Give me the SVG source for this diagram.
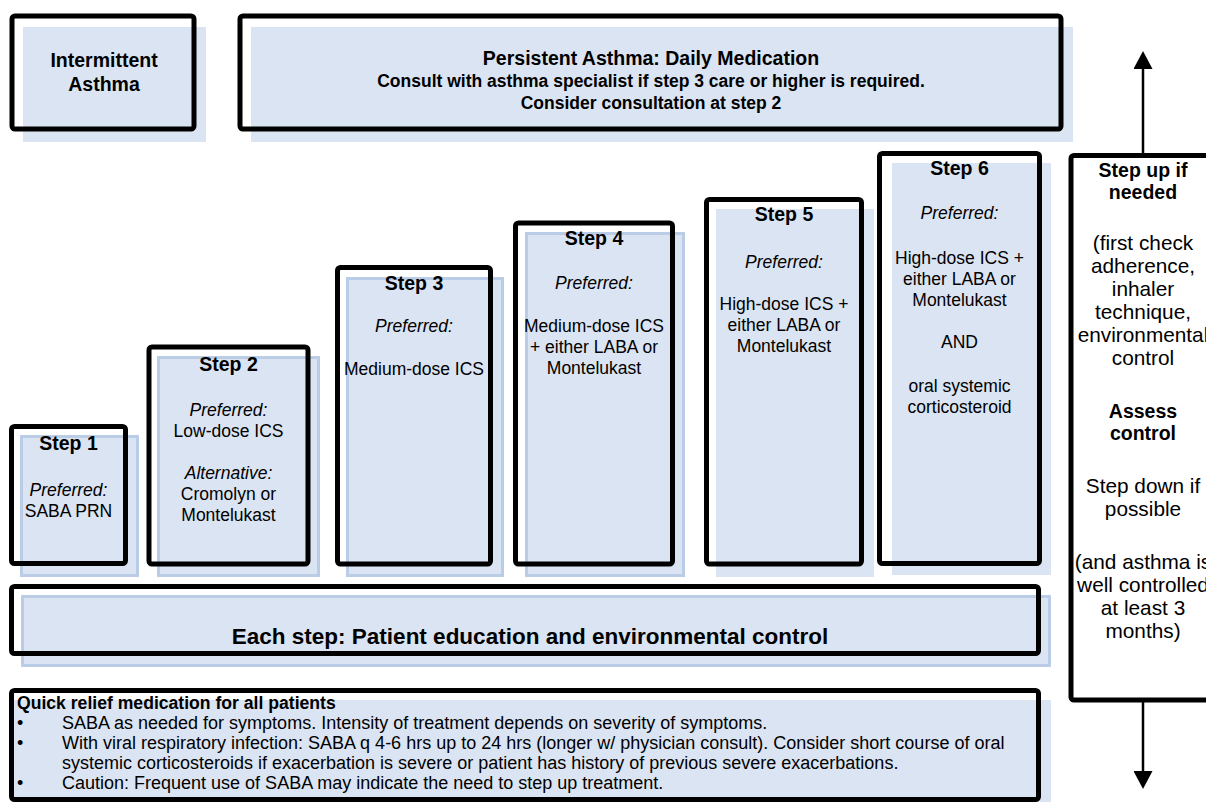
<svg xmlns="http://www.w3.org/2000/svg" width="1206" height="802" viewBox="0 0 1206 802">
  <style>
    .frame { fill: none; stroke: #000; stroke-width: 5; }
    .shade { fill: #DBE4F2; }
    .shade-b { fill: #DBE4F2; stroke: #BACCE6; stroke-width: 3; }
    text { font-family: "Liberation Sans", Arial, sans-serif; fill: #000; }
    .c { text-anchor: middle; }
    .h { font-weight: bold; font-size: 19.5px; }
    .hs { font-weight: bold; font-size: 17.5px; }
    .r { font-size: 17.5px; }
    .i { font-size: 17.5px; font-style: italic; }
    .side { font-size: 20.8px; }
    .q { font-size: 18px; }
    .link { stroke: #000; stroke-width: 2.5; fill: none; }
  </style>
  <defs>
    <marker id="head" markerUnits="userSpaceOnUse" markerWidth="19" markerHeight="19" refX="0" refY="9.5" orient="auto" viewBox="0 0 19 19">
      <path d="M0,0 L18,9.5 L0,19 z" fill="#000"/>
    </marker>
  </defs>
  <rect width="1206" height="802" fill="#fff"/>

  <!-- header row -->
  <g id="intermittent">
    <rect class="shade" x="23" y="27" width="183" height="115"/>
    <rect class="frame" x="12" y="16" width="182" height="113" rx="3"/>
    <text class="c h" x="104" y="67">Intermittent</text>
    <text class="c h" x="104" y="91">Asthma</text>
  </g>
  <g id="persistent">
    <rect class="shade" x="251" y="27" width="822" height="115"/>
    <rect class="frame" x="240" y="16" width="821" height="113" rx="3"/>
    <text class="c h" x="651" y="65">Persistent Asthma: Daily Medication</text>
    <text class="c hs" x="651" y="87">Consult with asthma specialist if step 3 care or higher is required.</text>
    <text class="c hs" x="651" y="109">Consider consultation at step 2</text>
  </g>

  <!-- treatment steps -->
  <g id="step1">
    <rect class="shade-b" x="21.5" y="436.5" width="116" height="139"/>
    <rect class="frame" x="11.5" y="426.5" width="114" height="137" rx="3"/>
    <text class="c h" x="68.5" y="450">Step 1</text>
    <text class="c i" x="68.5" y="496">Preferred:</text>
    <text class="c r" x="68.5" y="517">SABA PRN</text>
  </g>
  <g id="step2">
    <rect class="shade-b" x="158.5" y="357.5" width="160" height="218"/>
    <rect class="frame" x="149" y="347" width="159" height="217" rx="3"/>
    <text class="c h" x="228.5" y="371">Step 2</text>
    <text class="c i" x="228.5" y="416">Preferred:</text>
    <text class="c r" x="228.5" y="437">Low-dose ICS</text>
    <text class="c i" x="228.5" y="479">Alternative:</text>
    <text class="c r" x="228.5" y="500">Cromolyn or</text>
    <text class="c r" x="228.5" y="521">Montelukast</text>
  </g>
  <g id="step3">
    <rect class="shade-b" x="347.5" y="278.5" width="155" height="297"/>
    <rect class="frame" x="337.5" y="267.5" width="153" height="296.5" rx="3"/>
    <text class="c h" x="414" y="290">Step 3</text>
    <text class="c i" x="414" y="332">Preferred:</text>
    <text class="c r" x="414" y="375">Medium-dose ICS</text>
  </g>
  <g id="step4">
    <rect class="shade-b" x="526.5" y="233.5" width="157" height="342"/>
    <rect class="frame" x="515.5" y="223" width="157" height="341" rx="3"/>
    <text class="c h" x="594" y="245">Step 4</text>
    <text class="c i" x="594" y="289">Preferred:</text>
    <text class="c r" x="594" y="332">Medium-dose ICS</text>
    <text class="c r" x="594" y="353">+ either LABA or</text>
    <text class="c r" x="594" y="374">Montelukast</text>
  </g>
  <g id="step5">
    <rect class="shade" x="716" y="209" width="158" height="368"/>
    <rect class="frame" x="706.5" y="199.5" width="155" height="364.5" rx="3"/>
    <text class="c h" x="784" y="221">Step 5</text>
    <text class="c i" x="784" y="268">Preferred:</text>
    <text class="c r" x="784" y="310">High-dose ICS +</text>
    <text class="c r" x="784" y="331">either LABA or</text>
    <text class="c r" x="784" y="352">Montelukast</text>
  </g>
  <g id="step6">
    <rect class="shade" x="892" y="163" width="159" height="412"/>
    <rect class="frame" x="879.5" y="153.5" width="160" height="410" rx="3"/>
    <text class="c h" x="959.5" y="175">Step 6</text>
    <text class="c i" x="959.5" y="219">Preferred:</text>
    <text class="c r" x="959.5" y="264">High-dose ICS +</text>
    <text class="c r" x="959.5" y="285">either LABA or</text>
    <text class="c r" x="959.5" y="306">Montelukast</text>
    <text class="c r" x="959.5" y="348">AND</text>
    <text class="c r" x="959.5" y="392">oral systemic</text>
    <text class="c r" x="959.5" y="413">corticosteroid</text>
  </g>

  <!-- base band -->
  <g id="each-step">
    <rect class="shade-b" x="22.5" y="596.5" width="1027" height="69"/>
    <rect class="frame" x="11.5" y="586.5" width="1027" height="67" rx="3"/>
    <text class="c" x="530" y="644" style="font-weight:bold;font-size:22.5px">Each step: Patient education and environmental control</text>
  </g>

  <!-- quick relief -->
  <g id="quick-relief">
    <rect class="shade" x="14" y="700" width="1037" height="112"/>
    <rect class="frame" x="11.5" y="690.5" width="1027" height="109" rx="3"/>
    <text x="17" y="709" style="font-weight:bold;font-size:17.6px">Quick relief medication for all patients</text>
    <text class="q" x="17" y="729">•</text>
    <text class="q" x="62" y="729">SABA as needed for symptoms. Intensity of treatment depends on severity of symptoms.</text>
    <text class="q" x="17" y="749">•</text>
    <text class="q" x="62" y="749">With viral respiratory infection: SABA q 4-6 hrs up to 24 hrs (longer w/ physician consult). Consider short course of oral</text>
    <text class="q" x="62" y="769">systemic corticosteroids if exacerbation is severe or patient has history of previous severe exacerbations.</text>
    <text class="q" x="17" y="789">•</text>
    <text class="q" x="62" y="789">Caution: Frequent use of SABA may indicate the need to step up treatment.</text>
  </g>

  <!-- step up / step down panel -->
  <g id="adjust">
    <rect class="frame" x="1071" y="155.5" width="170" height="544.5" rx="3"/>
    <text class="c h" x="1143" y="177">Step up if</text>
    <text class="c h" x="1143" y="199">needed</text>
    <text class="c side" x="1143" y="250">(first check</text>
    <text class="c side" x="1143" y="273">adherence,</text>
    <text class="c side" x="1143" y="296">inhaler</text>
    <text class="c side" x="1143" y="319">technique,</text>
    <text class="c side" x="1143" y="342">environmental</text>
    <text class="c side" x="1143" y="365">control</text>
    <text class="c h" x="1143" y="418">Assess</text>
    <text class="c h" x="1143" y="440">control</text>
    <text class="c side" x="1143" y="493">Step down if</text>
    <text class="c side" x="1143" y="516">possible</text>
    <text class="c side" x="1143" y="569">(and asthma is</text>
    <text class="c side" x="1143" y="592">well controlled</text>
    <text class="c side" x="1143" y="615">at least 3</text>
    <text class="c side" x="1143" y="638">months)</text>
  </g>

  <g id="connectors">
    <line class="link" x1="1143" y1="155" x2="1143" y2="69" marker-end="url(#head)"/>
    <line class="link" x1="1143" y1="700" x2="1143" y2="771" marker-end="url(#head)"/>
  </g>
</svg>
